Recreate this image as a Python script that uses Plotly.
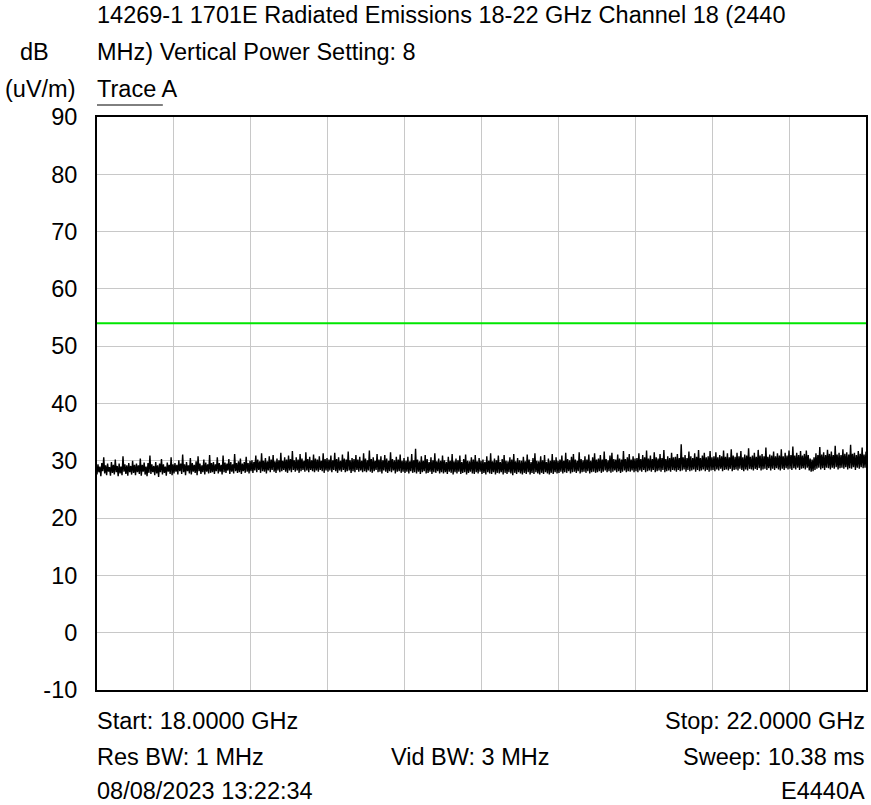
import numpy as np
import plotly.graph_objects as go

start_ghz = 18.0
stop_ghz = 22.0
limit_db = 54.0

trace_a = [
    27.6, 29.4, 28.0, 29.0, 27.3, 29.6, 28.2, 30.6, 27.8, 29.2, 27.5, 29.5, 28.1, 28.9, 27.4, 29.8, 27.9, 29.3, 27.6, 30.2, 28.0, 29.1, 27.3, 29.5, 27.8, 29.0, 27.5, 30.8, 28.1, 29.4, 27.7, 29.2, 27.4, 29.6, 28.0, 29.1, 27.6, 30.0, 27.9, 29.3,
    27.5, 29.5, 28.0, 29.2, 27.7, 30.4, 27.4, 29.3, 28.1, 29.7, 27.6, 29.0, 27.3, 29.6, 27.9, 30.9, 27.7, 29.4, 28.0, 29.1, 27.5, 29.8, 27.8, 29.2, 27.2, 29.5, 28.0, 30.3, 27.6, 29.4, 27.9, 29.0, 27.4, 29.7, 28.1, 29.3, 27.7, 30.6, 27.5, 29.4,
    27.8, 29.6, 28.1, 29.3, 27.6, 30.1, 28.2, 29.5, 27.7, 31.1, 28.0, 29.4, 27.5, 29.8, 28.2, 29.2, 27.8, 30.5, 27.6, 29.6, 28.1, 29.3, 27.9, 29.9, 27.5, 30.8, 28.2, 29.5, 27.7, 29.2, 28.0, 30.2, 27.6, 29.7, 28.1, 29.4, 27.8, 31.0, 27.9, 29.6,
    28.0, 29.8, 27.7, 29.4, 28.2, 30.6, 27.8, 29.6, 28.1, 29.3, 27.6, 30.9, 28.0, 29.7, 27.9, 29.5, 28.3, 30.3, 27.7, 29.8, 28.1, 29.4, 27.8, 31.2, 28.2, 29.6, 27.9, 29.9, 28.0, 30.4, 27.7, 29.5, 28.2, 29.8, 27.9, 30.7, 28.1, 29.6, 27.8, 30.0,
    28.2, 30.1, 27.9, 29.8, 28.3, 30.9, 28.0, 30.2, 28.4, 29.9, 27.9, 31.3, 28.2, 30.0, 28.1, 30.5, 27.8, 29.9, 28.3, 30.8, 28.0, 30.2, 28.4, 31.0, 28.1, 29.9, 27.9, 30.4, 28.3, 30.1, 28.0, 31.4, 28.2, 30.0, 28.4, 30.6, 28.1, 30.2, 27.9, 30.9,
    28.3, 30.3, 28.0, 31.7, 28.4, 30.1, 28.1, 30.6, 28.3, 30.2, 27.9, 31.2, 28.2, 30.4, 28.4, 30.0, 28.1, 31.5, 28.3, 30.3, 28.0, 30.7, 28.4, 30.1, 28.2, 31.1, 28.0, 30.4, 28.3, 30.2, 28.1, 30.8, 28.4, 30.0, 28.2, 31.3, 27.9, 30.3, 28.3, 30.5,
    28.1, 30.2, 28.3, 30.9, 28.0, 30.1, 28.4, 31.4, 28.2, 30.3, 27.9, 30.6, 28.3, 30.0, 28.1, 31.1, 28.4, 30.4, 28.0, 30.2, 28.2, 31.6, 28.3, 30.1, 27.9, 30.5, 28.2, 30.3, 28.0, 31.0, 28.4, 30.2, 28.1, 30.7, 28.3, 30.0, 28.0, 31.3, 28.2, 30.4,
    28.0, 30.1, 28.3, 31.8, 28.1, 30.3, 27.9, 30.6, 28.2, 30.0, 28.4, 31.2, 28.0, 30.2, 28.1, 30.8, 27.8, 30.1, 28.3, 31.0, 28.1, 30.4, 27.9, 30.0, 28.2, 31.5, 28.0, 30.3, 28.3, 30.1, 27.8, 30.7, 28.1, 30.2, 28.2, 31.1, 27.9, 30.0, 28.1, 30.5,
    27.9, 30.0, 28.1, 30.7, 27.8, 29.9, 28.2, 31.2, 27.9, 30.1, 28.0, 32.1, 27.8, 30.2, 28.1, 29.9, 27.7, 30.8, 28.0, 30.0, 28.2, 31.0, 27.8, 30.3, 27.9, 29.8, 28.1, 30.6, 27.7, 30.1, 28.0, 31.3, 27.9, 29.9, 28.2, 30.4, 27.8, 30.0, 28.0, 30.9,
    27.8, 30.1, 28.0, 29.8, 27.7, 30.7, 28.1, 30.0, 27.9, 31.2, 27.6, 29.9, 28.0, 30.4, 27.8, 30.1, 28.1, 30.9, 27.7, 29.8, 27.9, 30.3, 28.0, 31.1, 27.6, 30.0, 27.9, 29.9, 28.1, 30.6, 27.8, 30.2, 27.7, 31.0, 28.0, 29.9, 27.8, 30.5, 28.1, 30.0,
    27.7, 30.2, 27.9, 29.8, 27.6, 30.8, 28.0, 30.0, 27.8, 31.3, 27.7, 29.9, 28.0, 30.4, 27.6, 30.1, 27.9, 30.9, 27.8, 29.8, 28.0, 30.3, 27.6, 31.0, 27.9, 30.0, 27.7, 29.9, 28.0, 30.6, 27.8, 30.2, 27.5, 31.2, 27.9, 29.9, 27.7, 30.5, 28.0, 30.1,
    27.8, 30.0, 27.6, 30.7, 27.9, 29.9, 27.7, 31.1, 28.0, 30.2, 27.6, 29.8, 27.9, 30.5, 27.7, 31.3, 28.0, 30.0, 27.8, 29.9, 27.6, 30.8, 27.9, 30.1, 27.7, 31.0, 28.0, 29.8, 27.8, 30.4, 27.6, 30.0, 27.9, 31.2, 27.7, 30.1, 28.0, 30.6, 27.8, 30.0,
    27.9, 30.2, 28.1, 30.9, 27.8, 30.0, 28.0, 31.4, 27.9, 30.3, 28.2, 30.1, 27.8, 30.7, 28.0, 31.2, 28.1, 30.2, 27.9, 30.0, 28.2, 31.5, 27.8, 30.3, 28.0, 30.1, 28.1, 30.8, 27.9, 30.2, 28.2, 31.1, 27.8, 30.0, 28.0, 30.6, 28.1, 31.3, 27.9, 30.2,
    28.0, 30.4, 28.2, 31.0, 27.9, 30.2, 28.1, 31.6, 28.3, 30.3, 28.0, 30.1, 28.2, 30.9, 27.9, 31.4, 28.1, 30.3, 28.3, 30.2, 28.0, 31.1, 28.2, 30.4, 27.9, 30.2, 28.1, 31.7, 28.3, 30.3, 28.0, 30.6, 28.2, 31.2, 28.1, 30.2, 28.3, 30.8, 28.0, 30.4,
    28.2, 30.5, 28.0, 31.3, 28.3, 30.3, 28.1, 31.0, 28.4, 30.6, 28.0, 31.8, 28.2, 30.4, 28.3, 30.9, 28.1, 30.3, 28.4, 31.5, 28.0, 30.6, 28.2, 30.4, 28.3, 31.2, 28.1, 30.5, 28.4, 31.9, 28.0, 30.3, 28.2, 30.8, 28.3, 30.5, 28.1, 31.4, 28.4, 30.6,
    28.3, 30.7, 28.1, 31.2, 28.4, 30.5, 28.2, 32.9, 28.3, 30.6, 28.5, 31.0, 28.1, 30.5, 28.4, 31.6, 28.2, 30.8, 28.3, 30.5, 28.5, 31.3, 28.1, 30.7, 28.4, 31.9, 28.2, 30.5, 28.3, 30.9, 28.5, 31.4, 28.2, 30.6, 28.4, 30.8, 28.1, 31.7, 28.3, 30.6,
    28.4, 30.8, 28.2, 31.5, 28.5, 30.6, 28.3, 31.0, 28.6, 30.8, 28.2, 31.8, 28.4, 30.7, 28.5, 31.3, 28.3, 30.6, 28.6, 32.0, 28.2, 30.9, 28.4, 30.7, 28.5, 31.4, 28.3, 30.8, 28.6, 31.7, 28.4, 30.6, 28.2, 31.1, 28.5, 30.9, 28.3, 32.2, 28.6, 30.7,
    28.5, 30.9, 28.3, 31.4, 28.6, 30.7, 28.4, 31.9, 28.7, 30.9, 28.3, 31.2, 28.5, 30.8, 28.6, 32.3, 28.4, 30.7, 28.7, 31.1, 28.3, 30.9, 28.6, 31.6, 28.4, 30.8, 28.7, 31.3, 28.5, 30.9, 28.3, 32.0, 28.6, 30.8, 28.4, 31.4, 28.7, 30.9, 28.5, 31.8,
    28.6, 31.0, 28.4, 32.5, 28.7, 30.9, 28.5, 31.4, 28.8, 31.0, 28.4, 31.7, 28.6, 30.9, 28.7, 31.2, 28.5, 31.8, 28.8, 31.0, 28.3, 30.4, 28.1, 30.2, 28.2, 30.6, 28.4, 31.3, 28.6, 31.0, 28.8, 32.4, 28.5, 31.1, 28.7, 31.5, 28.4, 31.0, 28.8, 31.9,
    28.7, 31.2, 28.5, 31.6, 28.8, 31.0, 28.6, 32.6, 28.9, 31.1, 28.5, 31.4, 28.7, 31.0, 28.8, 32.0, 28.6, 31.2, 28.9, 31.5, 28.5, 31.1, 28.7, 32.8, 28.6, 31.2, 28.9, 31.4, 28.4, 31.0, 28.8, 31.7, 28.6, 31.2, 28.9, 32.3, 28.7, 31.1, 28.8, 31.6,
]

y_ticks = [-10, 0, 10, 20, 30, 40, 50, 60, 70, 80, 90]
y_tick_labels = ["-10", "0", "10", "20", "30", "40", "50", "60", "70", "80", "90"]
x_grid = [18.0, 18.4, 18.8, 19.2, 19.6, 20.0, 20.4, 20.8, 21.2, 21.6, 22.0]

title_lines = [
    "14269-1 1701E Radiated Emissions 18-22 GHz Channel 18 (2440",
    "MHz) Vertical Power Setting: 8",
    "Trace A",
]
unit_lines = ["dB", "(uV/m)"]
footer_left = ["Start: 18.0000 GHz", "Res BW: 1 MHz", "08/08/2023 13:22:34"]
footer_mid = ["", "Vid BW: 3 MHz", ""]
footer_right = ["Stop: 22.0000 GHz", "Sweep: 10.38 ms", "E4440A"]

freq = np.linspace(start_ghz, stop_ghz, len(trace_a))

FONT = "Liberation Sans, Arial, sans-serif"
FS = 23.5

fig = go.Figure()
fig.add_trace(go.Scatter(x=freq, y=trace_a, mode="lines",
                         line=dict(color="black", width=1.4), showlegend=False, hoverinfo="skip"))
fig.add_trace(go.Scatter(x=[start_ghz, stop_ghz], y=[limit_db, limit_db], mode="lines",
                         line=dict(color="#00e600", width=2), showlegend=False, hoverinfo="skip"))

fig.update_layout(
    width=871, height=805,
    margin=dict(l=97, r=3, t=117, b=115),
    paper_bgcolor="white", plot_bgcolor="white",
    font=dict(family=FONT, size=FS, color="black"),
    xaxis=dict(range=[start_ghz, stop_ghz], tickvals=x_grid, showticklabels=False,
               showgrid=True, gridcolor="#c8c8c8", gridwidth=1, zeroline=False,
               showline=True, linecolor="black", linewidth=2, mirror=True, ticks=""),
    yaxis=dict(range=[-10, 90], tickvals=y_ticks, ticktext=y_tick_labels,
               showgrid=True, gridcolor="#c8c8c8", gridwidth=1, zeroline=False,
               showline=True, linecolor="black", linewidth=2, mirror=True, ticks="",
               ticklabelstandoff=13, tickfont=dict(size=FS)),
)

def py(pix):
    return (690 - pix) / 573.0

def px(pix):
    return (pix - 97) / 771.0

anns = []
for text, ypix in zip(title_lines, [15, 52, 89]):
    anns.append(dict(text=text, x=0, y=py(ypix), xref="paper", yref="paper", xshift=-2,
                     xanchor="left", yanchor="middle", showarrow=False))
for text, xpix, ypix in zip(unit_lines, [20, 5], [52, 89]):
    anns.append(dict(text=text, x=px(xpix), y=py(ypix), xref="paper", yref="paper", xshift=-2,
                     xanchor="left", yanchor="middle", showarrow=False))
for row, ypix in enumerate([721, 757, 791]):
    anns.append(dict(text=footer_left[row], x=0, y=py(ypix), xref="paper", yref="paper", xshift=-2,
                     xanchor="left", yanchor="middle", showarrow=False))
    if footer_mid[row]:
        anns.append(dict(text=footer_mid[row], x=px(390), y=py(ypix), xref="paper", yref="paper",
                         xanchor="left", yanchor="middle", showarrow=False))
    anns.append(dict(text=footer_right[row], x=1, y=py(ypix), xref="paper", yref="paper", xshift=1,
                     xanchor="right", yanchor="middle", showarrow=False))
fig.update_layout(annotations=anns)

fig.add_shape(type="line", xref="paper", yref="paper", x0=0, x1=px(163), y0=py(105), y1=py(105),
              line=dict(color="black", width=1))

fig.write_html("out.html", config={"displayModeBar": False},
               post_script="document.body.style.margin='0';document.body.style.overflow='hidden';")
